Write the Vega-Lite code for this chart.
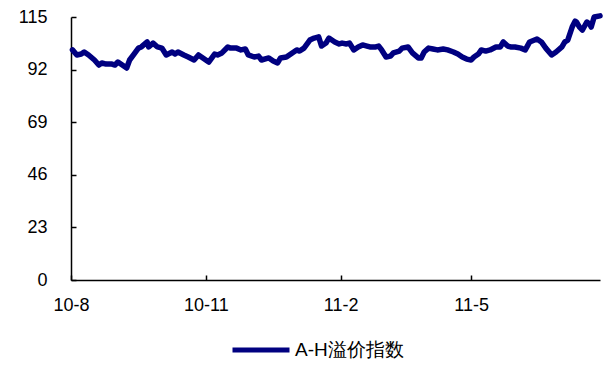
{
  "$schema": "https://vega.github.io/schema/vega-lite/v6.json",
  "width": 529,
  "height": 263,
  "autosize": {"type": "none"},
  "padding": {"left": 71, "top": 17, "right": 5, "bottom": 87},
  "background": "white",
  "config": {
    "view": {"stroke": null},
    "font": "Liberation Sans",
    "axis": {"domainColor": "black", "domainWidth": 1.5, "tickColor": "black", "tickWidth": 1.5, "grid": false, "labelColor": "black", "labelFont": "Liberation Sans", "labelFontSize": 18, "title": null}
  },
  "data": {"values": [
    {"date": "2010-08-02", "v": 100.6},
    {"date": "2010-08-05", "v": 98.4},
    {"date": "2010-08-08", "v": 98.8},
    {"date": "2010-08-10", "v": 99.7},
    {"date": "2010-08-13", "v": 98.4},
    {"date": "2010-08-17", "v": 96.2},
    {"date": "2010-08-20", "v": 94.0},
    {"date": "2010-08-22", "v": 94.9},
    {"date": "2010-08-25", "v": 94.4},
    {"date": "2010-08-29", "v": 94.4},
    {"date": "2010-08-31", "v": 94.0},
    {"date": "2010-09-02", "v": 95.3},
    {"date": "2010-09-05", "v": 94.0},
    {"date": "2010-09-08", "v": 92.7},
    {"date": "2010-09-10", "v": 96.2},
    {"date": "2010-09-13", "v": 98.8},
    {"date": "2010-09-16", "v": 101.4},
    {"date": "2010-09-18", "v": 101.9},
    {"date": "2010-09-22", "v": 104.1},
    {"date": "2010-09-23", "v": 101.9},
    {"date": "2010-09-26", "v": 103.6},
    {"date": "2010-09-29", "v": 101.9},
    {"date": "2010-10-02", "v": 101.4},
    {"date": "2010-10-05", "v": 98.4},
    {"date": "2010-10-09", "v": 99.7},
    {"date": "2010-10-11", "v": 98.8},
    {"date": "2010-10-13", "v": 99.7},
    {"date": "2010-10-17", "v": 98.4},
    {"date": "2010-10-20", "v": 97.5},
    {"date": "2010-10-24", "v": 96.2},
    {"date": "2010-10-27", "v": 98.4},
    {"date": "2010-10-30", "v": 97.1},
    {"date": "2010-11-03", "v": 95.3},
    {"date": "2010-11-07", "v": 98.8},
    {"date": "2010-11-09", "v": 98.4},
    {"date": "2010-11-12", "v": 99.3},
    {"date": "2010-11-16", "v": 101.9},
    {"date": "2010-11-18", "v": 101.4},
    {"date": "2010-11-22", "v": 101.4},
    {"date": "2010-11-25", "v": 100.6},
    {"date": "2010-11-28", "v": 101.0},
    {"date": "2010-11-30", "v": 98.4},
    {"date": "2010-12-04", "v": 97.5},
    {"date": "2010-12-07", "v": 97.9},
    {"date": "2010-12-09", "v": 96.2},
    {"date": "2010-12-14", "v": 97.1},
    {"date": "2010-12-17", "v": 95.8},
    {"date": "2010-12-20", "v": 94.9},
    {"date": "2010-12-22", "v": 97.1},
    {"date": "2010-12-26", "v": 97.5},
    {"date": "2010-12-28", "v": 98.4},
    {"date": "2010-12-31", "v": 99.7},
    {"date": "2011-01-02", "v": 100.6},
    {"date": "2011-01-04", "v": 100.1},
    {"date": "2011-01-07", "v": 101.4},
    {"date": "2011-01-11", "v": 104.9},
    {"date": "2011-01-14", "v": 105.8},
    {"date": "2011-01-17", "v": 106.3},
    {"date": "2011-01-19", "v": 102.3},
    {"date": "2011-01-22", "v": 103.6},
    {"date": "2011-01-24", "v": 105.8},
    {"date": "2011-01-28", "v": 104.1},
    {"date": "2011-01-31", "v": 103.2},
    {"date": "2011-02-02", "v": 103.6},
    {"date": "2011-02-05", "v": 103.2},
    {"date": "2011-02-07", "v": 103.6},
    {"date": "2011-02-10", "v": 100.6},
    {"date": "2011-02-13", "v": 101.9},
    {"date": "2011-02-16", "v": 102.8},
    {"date": "2011-02-19", "v": 102.3},
    {"date": "2011-02-21", "v": 101.9},
    {"date": "2011-02-25", "v": 101.9},
    {"date": "2011-02-27", "v": 102.3},
    {"date": "2011-03-01", "v": 100.6},
    {"date": "2011-03-04", "v": 97.5},
    {"date": "2011-03-07", "v": 97.9},
    {"date": "2011-03-09", "v": 99.3},
    {"date": "2011-03-13", "v": 100.1},
    {"date": "2011-03-15", "v": 101.4},
    {"date": "2011-03-19", "v": 101.9},
    {"date": "2011-03-22", "v": 99.3},
    {"date": "2011-03-26", "v": 97.1},
    {"date": "2011-03-28", "v": 97.1},
    {"date": "2011-03-30", "v": 99.7},
    {"date": "2011-04-02", "v": 101.4},
    {"date": "2011-04-05", "v": 101.0},
    {"date": "2011-04-08", "v": 100.6},
    {"date": "2011-04-12", "v": 101.0},
    {"date": "2011-04-15", "v": 100.6},
    {"date": "2011-04-19", "v": 99.7},
    {"date": "2011-04-22", "v": 98.8},
    {"date": "2011-04-25", "v": 97.5},
    {"date": "2011-04-28", "v": 96.6},
    {"date": "2011-05-01", "v": 96.2},
    {"date": "2011-05-03", "v": 97.5},
    {"date": "2011-05-06", "v": 98.8},
    {"date": "2011-05-08", "v": 100.6},
    {"date": "2011-05-11", "v": 100.1},
    {"date": "2011-05-14", "v": 100.6},
    {"date": "2011-05-18", "v": 101.9},
    {"date": "2011-05-21", "v": 101.9},
    {"date": "2011-05-23", "v": 104.1},
    {"date": "2011-05-26", "v": 102.3},
    {"date": "2011-05-28", "v": 101.9},
    {"date": "2011-05-31", "v": 101.9},
    {"date": "2011-06-04", "v": 101.4},
    {"date": "2011-06-07", "v": 100.6},
    {"date": "2011-06-10", "v": 104.1},
    {"date": "2011-06-15", "v": 105.4},
    {"date": "2011-06-18", "v": 104.1},
    {"date": "2011-06-21", "v": 101.4},
    {"date": "2011-06-25", "v": 98.4},
    {"date": "2011-06-28", "v": 99.7},
    {"date": "2011-07-02", "v": 101.9},
    {"date": "2011-07-04", "v": 104.1},
    {"date": "2011-07-06", "v": 104.9},
    {"date": "2011-07-09", "v": 110.6},
    {"date": "2011-07-11", "v": 113.2},
    {"date": "2011-07-12", "v": 112.8},
    {"date": "2011-07-14", "v": 110.6},
    {"date": "2011-07-16", "v": 109.3},
    {"date": "2011-07-19", "v": 112.8},
    {"date": "2011-07-21", "v": 111.9},
    {"date": "2011-07-22", "v": 110.6},
    {"date": "2011-07-24", "v": 115.0},
    {"date": "2011-07-28", "v": 115.5}
  ]},
  "transform": [{"calculate": "'A-H溢价指数'", "as": "series"}],
  "mark": {"type": "line", "strokeWidth": 5.5, "strokeJoin": "round", "strokeCap": "round", "clip": false},
  "encoding": {
    "x": {
      "field": "date", "type": "temporal",
      "scale": {"type": "utc", "domain": [{"year": 2010, "month": 8, "date": 1, "utc": true}, {"year": 2011, "month": 7, "date": 28, "utc": true}]},
      "axis": {
        "values": [
          {"year": 2010, "month": 8, "date": 1, "utc": true},
          {"year": 2010, "month": 11, "date": 1, "utc": true},
          {"year": 2011, "month": 2, "date": 1, "utc": true},
          {"year": 2011, "month": 5, "date": 1, "utc": true}
        ],
        "format": "%y-%-m",
        "tickSize": -5,
        "labelPadding": 21,
        "labelFlush": false,
        "labelOverlap": false
      }
    },
    "y": {
      "field": "v", "type": "quantitative",
      "scale": {"domain": [0, 115], "nice": false, "zero": true},
      "axis": {"values": [0, 23, 46, 69, 92, 115], "tickSize": -5, "labelPadding": 29, "labelFlush": false}
    },
    "color": {
      "field": "series", "type": "nominal",
      "scale": {"range": ["#000080"]},
      "legend": {
        "title": null, "orient": "none", "legendX": 159, "legendY": 302,
        "symbolType": "stroke", "symbolSize": 3249, "symbolStrokeWidth": 5,
        "labelFontSize": 19, "labelFont": "Liberation Sans", "labelColor": "black", "labelOffset": 3
      }
    }
  }
}
